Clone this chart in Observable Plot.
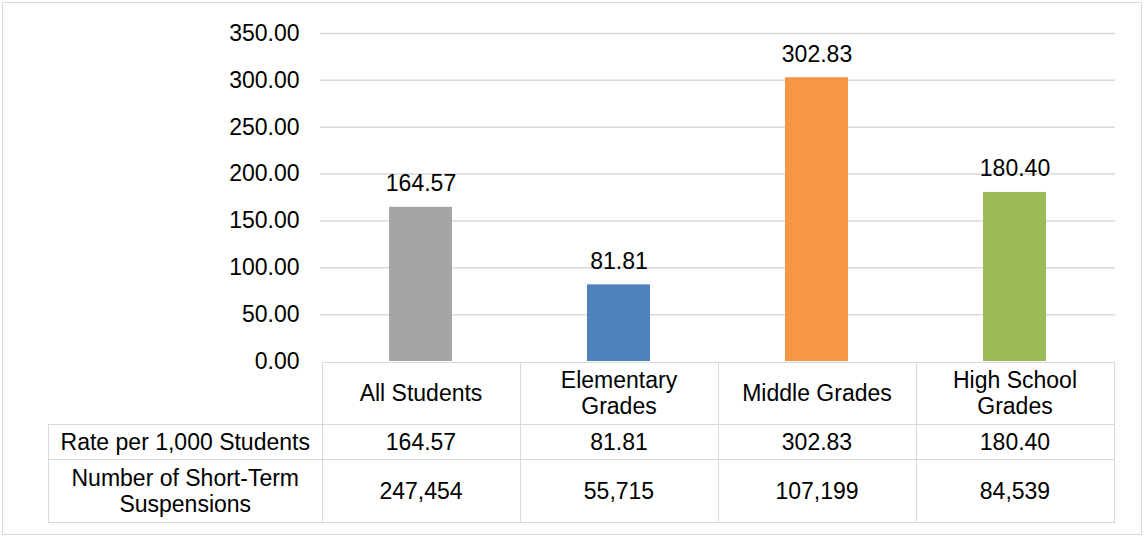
<!DOCTYPE html>
<html>
<head>
<meta charset="utf-8">
<script src="https://cdn.jsdelivr.net/npm/d3@7"></script>
<script src="https://cdn.jsdelivr.net/npm/@observablehq/plot@0.6"></script>
<style>
  html, body { margin: 0; padding: 0; background: #fff; }
  #frame {
    position: relative; width: 1144px; height: 536px; box-sizing: border-box;
    font-family: "Liberation Sans", Arial, sans-serif; color: #000;
  }
  #border {
    position: absolute; left: 2px; top: 2px; width: 1140px; height: 533px;
    box-sizing: border-box; border: 1.5px solid #D9D9D9; pointer-events: none;
  }
  #chart { position: absolute; left: 0; top: 0; }
  table.dt {
    position: absolute; border-collapse: collapse; table-layout: fixed;
    font-size: 23px; line-height: 26px; font-family: "Liberation Sans", Arial, sans-serif;
  }
  table.dt td {
    border: 1.5px solid #D9D9D9; text-align: center; vertical-align: middle;
    padding: 0; white-space: pre-line; box-sizing: border-box;
  }
  table.dt td.empty { border: none; }
</style>
</head>
<body>
<div id="frame">
  <div id="chart"></div>
  <div id="border"></div>
</div>
<script>
// ---- data ----
const categories = ["All Students", "Elementary Grades", "Middle Grades", "High School Grades"];
const categoryLabels = ["All Students", "Elementary\nGrades", "Middle Grades", "High School\nGrades"];
const rates = [164.57, 81.81, 302.83, 180.40];
const suspensions = [247454, 55715, 107199, 84539];
const barColors = ["#A5A5A5", "#4F81BD", "#F79646", "#9BBB59"];
const yTicks = [0, 50, 100, 150, 200, 250, 300, 350];
const rowLabels = ["Rate per 1,000 Students", "Number of Short-Term\nSuspensions"];

const data = categories.map((c, i) => ({cat: c, rate: rates[i], count: suspensions[i]}));

const FONT = "Liberation Sans, Arial, sans-serif";

const chart = Plot.plot({
  width: 1144,
  height: 362,
  marginLeft: 320,
  marginRight: 29,
  marginTop: 33,
  marginBottom: 1,
  style: {fontFamily: FONT, fontSize: "23px", color: "#000", background: "transparent", overflow: "visible"},
  x: {domain: categories, paddingInner: 0.683, paddingOuter: 0.3415, axis: null},
  y: {domain: [0, 350], axis: null},
  color: {domain: categories, range: barColors},
  marks: [
    Plot.gridY(yTicks.filter(d => d > 0), {stroke: "#D9D9D9", strokeOpacity: 1, strokeWidth: 1.5}),
    Plot.axisY(yTicks, {tickSize: 0, tickPadding: 21, tickFormat: d => d.toFixed(2), label: null, fontSize: 23, fill: "#000"}),
    Plot.barY(data, {x: "cat", y: "rate", fill: "cat"}),
    Plot.text(data, {x: "cat", y: "rate", text: d => d.rate.toFixed(2), dy: -16, lineAnchor: "bottom", fontSize: 23, fill: "#000"})
  ]
});
document.getElementById("chart").appendChild(chart);

// ---- data table under the chart, aligned on the Plot x scale ----
const xs = chart.scale("x");
const step = xs.step;
const colStarts = categories.map(c => xs.apply(c) + xs.bandwidth / 2 - step / 2);
const tableLeft = 48;
const firstColW = colStarts[0] - tableLeft;
const fmtCount = d3.format(",");

const table = document.createElement("table");
table.className = "dt";
table.style.left = tableLeft + "px";
table.style.top = "362px";
const colgroup = document.createElement("colgroup");
[firstColW, ...categories.map(() => step)].forEach(w => {
  const col = document.createElement("col");
  col.style.width = w + "px";
  colgroup.appendChild(col);
});
table.appendChild(colgroup);
table.style.width = (firstColW + step * categories.length) + "px";

const rows = [
  {label: null, values: categoryLabels, h: 61.5},
  {label: rowLabels[0], values: rates.map(d => d.toFixed(2)), h: 35.5},
  {label: rowLabels[1], values: suspensions.map(fmtCount), h: 63}
];
rows.forEach(r => {
  const tr = document.createElement("tr");
  tr.style.height = r.h + "px";
  const th = document.createElement("td");
  if (r.label == null) th.className = "empty"; else th.textContent = r.label;
  tr.appendChild(th);
  r.values.forEach(v => {
    const td = document.createElement("td");
    td.textContent = v;
    tr.appendChild(td);
  });
  table.appendChild(tr);
});
document.getElementById("frame").appendChild(table);
</script>
</body>
</html>
